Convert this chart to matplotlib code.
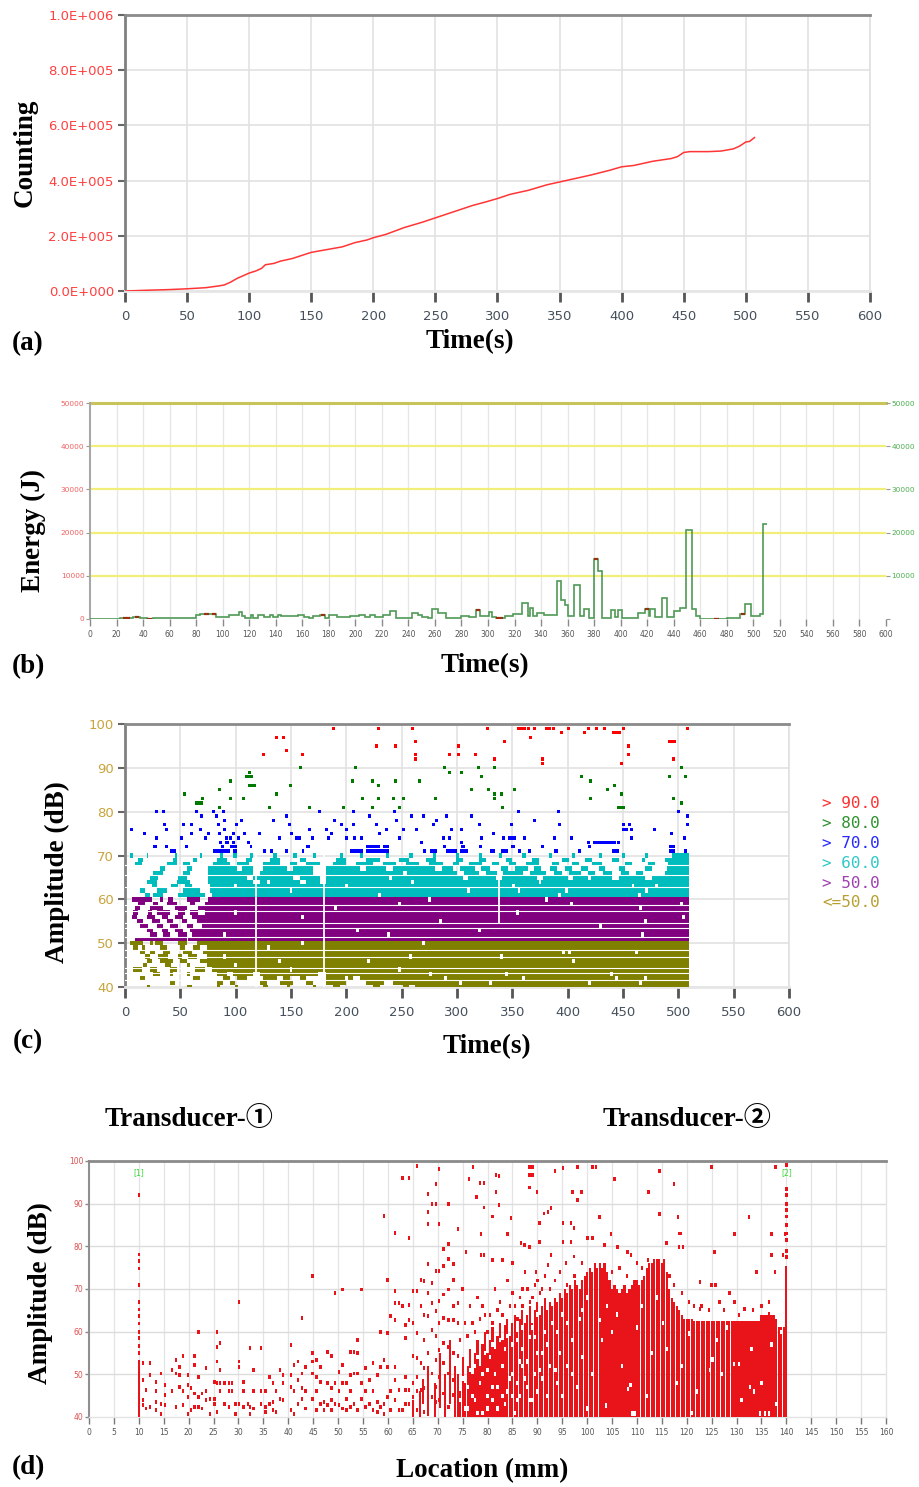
import numpy as np
import matplotlib
matplotlib.use("Agg")
import matplotlib.pyplot as plt
from matplotlib.patches import Rectangle
from matplotlib.collections import PatchCollection

W, H = 920, 1487

# ================= (a) cumulative counting =================
a_time = [0, 20, 35, 50, 65, 75, 80, 85, 90, 95, 100, 105, 110, 113, 120, 125, 135, 150, 165, 175,
          185, 195, 200, 210, 225, 240, 250, 260, 270, 280, 290, 300, 310, 325, 340, 350, 360, 375, 390, 400,
          410, 425, 440, 445, 450, 455, 470, 480, 490, 495, 500, 503, 507]
a_count = [0, 3e3, 5e3, 8e3, 12e3, 18e3, 22e3, 32e3, 45e3, 55e3, 65e3, 72e3, 82e3, 95e3, 100e3, 108e3, 118e3, 140e3, 152e3, 160e3,
           175e3, 185e3, 193e3, 205e3, 230e3, 250e3, 265e3, 280e3, 295e3, 310e3, 322e3, 335e3, 350e3, 365e3, 385e3, 395e3, 405e3, 420e3, 437e3, 450e3,
           455e3, 470e3, 480e3, 487e3, 502e3, 505e3, 505e3, 507e3, 515e3, 525e3, 540e3, 542e3, 556e3]
a_yticks = [0, 2e5, 4e5, 6e5, 8e5, 1e6]
a_yticklabels = ["0.0E+000", "2.0E+005", "4.0E+005", "6.0E+005", "8.0E+005", "1.0E+006"]

# ================= (b) energy (step) =================
b_edges = [0, 22.6, 32.7, 37.7, 42.7, 47.7, 60, 68, 80, 83, 95, 105, 112, 114.5, 117, 121, 123, 127, 131, 136,
           138, 142, 144, 157, 161, 165, 168, 173, 177, 180, 186, 196, 203, 207, 211, 215, 221, 226, 231, 243,
           247, 250, 255, 258, 262, 268, 280, 286, 291, 294, 301, 303, 306, 311, 313, 319, 326, 330, 332, 334,
           337, 342, 352, 355, 358, 360, 365, 369, 372, 376, 380, 383, 386, 393, 396, 398, 401, 413, 418, 421,
           422, 426, 431, 435, 440, 445, 449, 454, 457, 460, 480, 490, 494, 498, 505, 507, 510]
b_energy = [0, 150, 400, 150, 100, 150, 300, 150, 1000, 1150, 540, 1000, 1700, 700, 150, 1000, 150, 1000, 540, 850,
            400, 1000, 700, 1000, 540, 150, 700, 1000, 150, 1000, 540, 700, 1000, 540, 850, 540, 850, 1900, 300, 1300,
            850, 540, 300, 2300, 1400, 300, 700, 500, 2000, 700, 1600, 500, 250, 300, 800, 1100, 3770, 600, 2600, 700,
            1500, 1000, 8850, 4400, 3300, 600, 7850, 600, 2300, 300, 13860, 11150, 200, 2000, 500, 2000, 300, 1500, 2400, 700,
            2300, 500, 4900, 500, 1900, 2500, 20560, 2300, 700, 0, 300, 1200, 3400, 700, 1200, 22100]
b_marks = [(25, 30, 150), (34, 37, 400), (43, 47, 100), (86, 90, 1150), (92, 95, 1150), (174, 177, 1000),
           (291, 294, 2000), (306, 311, 250), (380, 383, 13860), (418, 421, 2400), (470, 474, 0), (491, 494, 1200)]

# ================= (c) amplitude vs time =================
c_red = [(125, 93), (137, 97), (143.6, 97), (146, 94), (160.5, 93), (188, 99), (229.5, 99), (227.3, 95), (244.5, 95),
         (259.6, 99), (262.9, 96), (262.9, 93), (262.9, 92), (293.6, 93), (301, 95), (301, 93), (317, 93), (328, 99),
         (334.2, 92), (343.3, 96), (355.3, 99), (358, 99), (361, 99), (364.3, 99), (366.8, 97), (370.4, 99), (377, 92),
         (377, 91), (381, 99), (384, 99), (387, 99), (394.5, 98), (400.5, 99), (415.6, 98), (418.6, 99), (426, 99),
         (433.6, 99), (441.2, 98), (444.2, 98), (447.2, 98), (450.8, 99), (454.6, 95), (454.6, 93), (448.6, 91),
         (492.3, 96), (495, 96), (496.8, 96), (495.3, 92), (508.3, 99)]
c_green = [(53.6, 84), (64.7, 82), (67, 82), (69.5, 82), (70.2, 83), (85.8, 81), (85.8, 85), (94.9, 87), (94.9, 83),
           (106.9, 83), (109.9, 88), (112.9, 88), (112.9, 89), (114.4, 88), (112.9, 86), (115.2, 86), (117.4, 86),
           (131, 81), (137, 84), (149.7, 86), (159, 90), (167.1, 81), (197.2, 81), (205.7, 87), (208.7, 90), (214.7, 83),
           (223.4, 87), (223.4, 81), (229.5, 86), (229.5, 83), (244.5, 87), (242.4, 83), (251.4, 83), (248.4, 81),
           (265.9, 87), (281, 83), (289.1, 90), (293.6, 89), (304, 89), (313.2, 85), (319.8, 90), (322.2, 88),
           (328.2, 85), (334.2, 84), (334.2, 83), (334.2, 90), (340.2, 84), (340.8, 81), (352.3, 85), (412.5, 88),
           (420.9, 87), (420.9, 83), (436, 85), (442, 86), (448.6, 84), (445.6, 81), (448, 81), (450.2, 81),
           (491.8, 88), (502.9, 90), (506.9, 88), (495.3, 83), (502.9, 82)]
c_blue = [(6, 76), (17.2, 75), (28.6, 80), (34.6, 80), (35.5, 77), (28.6, 74), (26.2, 72), (37.6, 76), (37.6, 72),
          (52.7, 77), (51.2, 74), (55.7, 72), (60.2, 77), (60.2, 75), (64.7, 80), (67.8, 76), (69.3, 79), (72.3, 74),
          (75.3, 75), (79.8, 80), (82.8, 79), (84.3, 77), (85.8, 75), (88.8, 80), (90.3, 76), (91.8, 74), (94.9, 74),
          (97.9, 75), (100.9, 77), (105.4, 78), (108.4, 75), (111.4, 73), (121.9, 75), (134, 78), (140, 74), (146, 79),
          (149, 77), (150.6, 75), (155.1, 74), (158.1, 74), (167.1, 76), (169.5, 74), (176.1, 80), (182.2, 76),
          (183.7, 74), (186.7, 75), (189.7, 78), (195.7, 77), (200.2, 76), (200.2, 74), (206.2, 80), (206.2, 77),
          (207.7, 74), (213.8, 74), (220.7, 79), (227.3, 77), (230.4, 75), (236.4, 76), (243.9, 80), (245.4, 78),
          (248.4, 74), (251.4, 76), (258.8, 79), (263.4, 76), (269.5, 79), (268, 73), (278.5, 77), (281.6, 78),
          (287.6, 74), (290.6, 79), (295.1, 76), (293.6, 74), (304.1, 76), (304.1, 73), (313.2, 79), (320.7, 77),
          (322.2, 74), (332.7, 75), (341.7, 74), (347.7, 74), (350, 74), (352.3, 74), (349.2, 77), (355.3, 80),
          (361.4, 74), (370.4, 78), (388.5, 74), (393, 77), (391.5, 80), (403.4, 74), (418.6, 73), (445.6, 73),
          (450.2, 77), (456.2, 77), (450.2, 76), (453, 76), (457.7, 76), (457.7, 74), (478.8, 76), (493.8, 75),
          (499.8, 80), (508.3, 79), (508.3, 77), (505.9, 74), (86, 73), (88, 72), (92, 73), (96, 72), (98, 73),
          (103, 74), (90, 78), (93, 73)]
c_blue_runs = [(71, 40.7, 46), (71, 79.8, 94.9), (71, 97.9, 100.9), (71, 124.9, 127.5), (71, 131, 133.5),
               (71, 144.5, 147), (71, 159.6, 162), (71, 203, 215), (71, 218, 239), (71, 269.5, 272),
               (71, 275.5, 281.6), (71, 290, 300), (71, 303, 310), (71, 330, 334), (71, 340, 346), (71, 355, 358),
               (71, 364, 367), (71, 388, 391), (71, 409, 412), (71, 440, 446), (71, 492, 497), (71, 505, 508),
               (72, 26, 29), (72, 94.9, 100.9), (72, 112.9, 115), (72, 164, 167), (72, 218, 230), (72, 233, 239),
               (72, 287, 290), (72, 304, 307), (72, 320, 323), (72, 349, 352), (72, 376, 379), (72, 418, 421),
               (72, 492, 497), (73, 423, 444)]
c_cyan_runs = [(61, 18, 22.6), (61, 25.6, 34.6), (61, 48.2, 72.3), (61, 78.3, 510),
               (62, 13.5, 18), (62, 28.6, 37.6), (62, 52.7, 67.8), (62, 76.8, 510),
               (63, 24, 28.6), (63, 42, 48.2), (63, 54.2, 60.2), (63, 76.8, 510),
               (64, 19.6, 28.6), (64, 46.7, 58.7), (64, 75.3, 116), (64, 122, 158), (64, 164, 176), (64, 182, 510),
               (65, 22.6, 30), (65, 48.2, 55.7), (65, 75.3, 110), (65, 116, 152), (65, 158, 176), (65, 182, 305),
               (65, 310, 335), (65, 341, 372), (65, 378, 400), (65, 405, 440), (65, 446, 470), (65, 476, 510),
               (66, 25.6, 34.6), (66, 52.7, 58.7), (66, 75.3, 116), (66, 122, 170), (66, 182, 251), (66, 255, 300),
               (66, 306, 320), (66, 326, 336), (66, 342, 360), (66, 366, 380), (66, 388, 395), (66, 401, 412),
               (66, 418, 425), (66, 432, 440), (66, 448, 455), (66, 462, 468), (66, 488, 510),
               (67, 31.6, 36), (67, 55.7, 60.2), (67, 75.3, 100.9), (67, 106, 116), (67, 125, 146), (67, 152, 170),
               (67, 182, 212), (67, 218, 236), (67, 242, 280), (67, 286, 296), (67, 303, 316), (67, 322, 330),
               (67, 340, 346), (67, 352, 364), (67, 370, 376), (67, 384, 390), (67, 398, 404), (67, 412, 418),
               (67, 428, 434), (67, 446, 452), (67, 470, 476), (67, 490, 510),
               (68, 9, 15), (68, 37.6, 46.7), (68, 52.7, 58.7), (68, 79.8, 94.9), (68, 100.9, 112), (68, 125, 140),
               (68, 149, 155), (68, 164, 176), (68, 188, 200), (68, 209, 224), (68, 233, 245), (68, 254, 266),
               (68, 275, 287), (68, 296, 302), (68, 311, 323), (68, 332, 338), (68, 347, 353), (68, 362, 374),
               (68, 386, 392), (68, 404, 410), (68, 422, 431), (68, 452, 458), (68, 473, 479), (68, 491, 510),
               (69, 12, 16.6), (69, 43.7, 46.7), (69, 61.7, 64.7), (69, 82.8, 91.8), (69, 109, 115), (69, 131, 140),
               (69, 158, 164), (69, 191, 200), (69, 218, 230), (69, 248, 257), (69, 272, 281), (69, 299, 305),
               (69, 320, 326), (69, 344, 350), (69, 368, 374), (69, 395, 401), (69, 416, 422), (69, 440, 446),
               (69, 467, 470), (69, 488, 510),
               (70, 4.5, 7.5), (70, 19.6, 21), (70, 45, 46.7), (70, 67.8, 69.3), (70, 85.8, 88.8), (70, 97.9, 100.9),
               (70, 113, 116), (70, 134, 137), (70, 152, 155), (70, 170, 173), (70, 194, 197), (70, 212, 215),
               (70, 236, 239), (70, 257, 260), (70, 278, 281), (70, 299, 302), (70, 320, 323), (70, 338, 341),
               (70, 359, 362), (70, 383, 386), (70, 404, 407), (70, 428, 431), (70, 449, 452), (70, 470, 473),
               (70, 494, 510)]
c_purple_runs = [(60, 6, 24), (60, 31.6, 34.6), (60, 39, 43.7), (60, 55.7, 67.8), (60, 75.3, 510),
                 (59, 12, 18), (59, 25.6, 30), (59, 37.6, 46.7), (59, 58.7, 63.2), (59, 72.3, 510),
                 (58, 9, 13.5), (58, 22.6, 34.6), (58, 45, 55.7), (58, 66.2, 510),
                 (57, 7.5, 12), (57, 21, 24), (57, 28.6, 40.6), (57, 48.2, 54.2), (57, 58.7, 66.2), (57, 72.3, 510),
                 (56, 6, 10.5), (56, 19.6, 27), (56, 33, 39), (56, 45, 52.7), (56, 60.2, 510),
                 (55, 10.5, 16.6), (55, 24, 31.6), (55, 37.6, 43.7), (55, 51.2, 55.7), (55, 64.7, 510),
                 (54, 13.5, 21), (54, 28.6, 34.6), (54, 40.6, 48.2), (54, 55.7, 61.7), (54, 69.3, 510),
                 (53, 19.6, 25.6), (53, 33, 39), (53, 45, 52.7), (53, 58.7, 510),
                 (52, 22.6, 28.6), (52, 34.6, 40.6), (52, 48.2, 55.7), (52, 60.2, 510),
                 (51, 9, 55.7), (51, 57.2, 510)]
c_olive_runs = [(50, 4.5, 16.6), (50, 22.6, 25.6), (50, 27, 34.6), (50, 48.2, 55.7), (50, 64.7, 510),
                (49, 7.5, 12), (49, 15, 18), (49, 31.6, 37.6), (49, 49.7, 54.2), (49, 61.7, 67.8), (49, 73.8, 510),
                (48, 13.5, 18), (48, 22.6, 27), (48, 34.6, 40.6), (48, 52.7, 60.2), (48, 70.8, 510),
                (47, 18, 22.6), (47, 30, 39), (47, 48.2, 51.2), (47, 57.2, 64.7), (47, 73.8, 510),
                (46, 19.6, 24), (46, 31.6, 43.7), (46, 49.7, 55.7), (46, 67.8, 510),
                (45, 16.6, 19.6), (45, 36, 42), (45, 55.7, 58.7), (45, 73.8, 510),
                (44, 7.5, 15), (44, 22.6, 28.6), (44, 40.6, 46.7), (44, 63.2, 72.3), (44, 78.3, 510),
                (43, 25.6, 31.6), (43, 40.6, 43.7), (43, 55.7, 58.7), (43, 82.8, 91.8), (43, 97.9, 116),
                (43, 122, 176), (43, 182, 510),
                (42, 13.5, 18), (42, 61.7, 67.8), (42, 88.8, 94.9), (42, 100.9, 110), (42, 125, 137), (42, 143, 149),
                (42, 158, 164), (42, 182, 206), (42, 212, 510),
                (41, 40.6, 45), (41, 82.8, 88.8), (41, 94.9, 99.4), (41, 122, 128), (41, 140, 152), (41, 164, 170),
                (41, 182, 200), (41, 218, 236), (41, 242, 510),
                (40, 19.6, 22.6), (40, 55.7, 60.2), (40, 82.8, 85.8), (40, 99.4, 102.4), (40, 125, 129.5),
                (40, 146, 149), (40, 170, 173), (40, 188, 194), (40, 224, 230), (40, 251, 257), (40, 262, 510)]
c_holes = [(247.9, 44), (276, 43), (303, 41), (345, 43), (440, 43), (444, 42), (466, 41), (470, 42), (396, 48),
           (402, 48), (270, 50), (340, 47), (405, 46), (462, 48), (290, 42), (330, 41), (360, 42), (420, 41),
           (150, 44), (200, 42), (176, 43), (140, 46), (100, 45), (90, 47), (130, 49), (160, 50), (220, 46),
           (235, 41), (258, 47), (247.9, 59), (275.5, 60), (380.6, 60), (403.5, 59), (466, 58), (470, 55),
           (468, 52), (503, 59), (505, 56), (285, 55), (320, 53), (355, 57), (430, 54), (238, 52), (160, 56),
           (190, 58), (210, 53), (100, 57), (90, 52), (310, 62), (351, 63), (356, 62), (375, 64), (393, 61),
           (399, 62), (459, 63), (465, 61), (471, 62), (480, 63), (420, 65), (260, 64), (240, 65), (200, 63),
           (150, 62), (130, 64), (100, 63), (230, 61)]
c_vgaps = [(118.3, 39.5, 70.5), (179.8, 39.5, 70.5), (337.9, 54.5, 66.5)]
c_legend = ["> 90.0", "> 80.0", "> 70.0", "> 60.0", "> 50.0", "<=50.0"]

# ================= (d) amplitude vs location =================
d_points = [(10, 55), (10, 56.7), (10, 58.5), (10, 60), (10, 61.9), (10, 63.7), (10, 65.2), (10, 67), (10, 71),
            (10, 74.8), (10, 76.6), (10, 78.1), (10, 92),
            (10.9, 52.6), (10.9, 48.6), (10.9, 44), (10.9, 42.8), (11.5, 46.3), (11.5, 42), (12.3, 52.6),
            (12.3, 49.8), (12.3, 42.4), (13.5, 48.3), (13.5, 46), (13.5, 43.5), (13.5, 41.6), (14.5, 50.2),
            (14.5, 43.1), (14.5, 40.8), (15.3, 47.5), (15.3, 45.1), (15.3, 42.8), (16.7, 51), (16.7, 46),
            (17.5, 53.4), (17.5, 50.2), (17.5, 42.4), (18.2, 51.8), (18.2, 49.8), (18.2, 47), (18.9, 54.2),
            (18.9, 46), (18.9, 42.8), (19.9, 49.8), (19.9, 47.5), (19.9, 44.7), (19.9, 40.8), (20.5, 46.7),
            (20.5, 41.6), (21.2, 54.2), (21.2, 52.2), (21.2, 45.5), (21.2, 42.4), (22, 60), (22, 49.4), (22, 44.7),
            (22, 42.4), (22.7, 45.5), (22.7, 42), (23.5, 51.4), (23.5, 46), (23.5, 44), (24.3, 44.3), (24.3, 40.8),
            (25.2, 48.3), (25.2, 44.3), (25.2, 43.1), (25.7, 60), (25.7, 56.5), (25.7, 53), (25.7, 47.9),
            (25.7, 41.2), (26.3, 57.3), (26.3, 51), (26.3, 47.9), (26.3, 46), (27.2, 47.9), (27.2, 43.1),
            (28.1, 47.9), (28.1, 46), (28.1, 42.4), (28.7, 47.9), (28.7, 46), (29.4, 43.1), (29.4, 40.8),
            (30.1, 67), (30.1, 53), (30.1, 51.8), (30.1, 43.1), (31, 48.3), (31, 46), (31, 42.4), (31.9, 43.1),
            (32.3, 56.1), (32.3, 42.4), (32.3, 40.8), (33, 51), (33, 46), (33, 42), (34.5, 56.1), (34.5, 46),
            (34.5, 43.1), (35.4, 46), (35.4, 42.4), (35.4, 41.2), (36.2, 49.4), (36.2, 43.1), (36.9, 47.9),
            (36.9, 43.5), (36.9, 41.6), (37.5, 46), (37.5, 41.2), (38.4, 51), (38.4, 44.3), (39, 49.8), (39, 47.9),
            (39, 44), (40.5, 56.9), (40.5, 49.8), (40.5, 47), (40.5, 41.6), (41.2, 52.2), (41.2, 46), (41.2, 40.8),
            (42, 53), (42, 48.6), (42, 43.1), (42.7, 63.2), (42.7, 50.2), (42.7, 46.7), (42.7, 44.3), (43.5, 51.8),
            (43.5, 46), (43.5, 42), (44.9, 73), (44.9, 55), (44.9, 53), (44.9, 50.2), (44.9, 44.3), (45.7, 53.4),
            (45.7, 49.4), (45.7, 46), (45.7, 41.6), (46.5, 51.8), (46.5, 48.3), (46.5, 43.1), (47.2, 43.5),
            (47.2, 41.6), (47.9, 55.3), (47.9, 47.9), (47.9, 42.8), (48.7, 54.2), (48.7, 46.7), (48.7, 44),
            (48.7, 41.6), (49.4, 69.1), (49.4, 47.9), (49.4, 43.1), (50.2, 50.6), (50.2, 46), (50.2, 42.8),
            (50.9, 69.9), (50.9, 52.2), (50.9, 47.9), (50.9, 42), (51.7, 47.9), (51.7, 44.3), (51.7, 41.6),
            (52.5, 55.3), (52.5, 49.8), (52.5, 46), (52.5, 42.4), (53.2, 55.3), (53.2, 50.2), (53.2, 43.1),
            (53.9, 58.1), (53.9, 55), (53.9, 50.2), (53.9, 41.6), (54.7, 69.9), (54.7, 47.9), (54.7, 44.3),
            (55.5, 51.4), (55.5, 46), (55.5, 42.4), (56.3, 48.6), (56.3, 43.1), (57, 52.6), (57, 46), (57, 41.6),
            (57.9, 49.8), (57.9, 43.5), (57.9, 41.2), (58.5, 60), (58.5, 51.8), (58.5, 42.4), (59.2, 87.2),
            (59.2, 53.4), (59.2, 43.1), (59.2, 40.8), (59.9, 72.2), (59.9, 59.7), (59.9, 51.8), (59.9, 44.7),
            (60.5, 63.6), (60.5, 46), (60.5, 41.6), (61.4, 83.2), (61.4, 69.5), (61.4, 66.7), (61.4, 62.8),
            (61.4, 51.8), (61.4, 48.6), (61.4, 44), (62.2, 66.7), (62.2, 46.3), (62.2, 41.6), (62.9, 96),
            (62.9, 66), (62.9, 41.6), (63.5, 61.6), (63.5, 58.5), (63.5, 49.4), (63.5, 46.3), (63.5, 43.1),
            (64.3, 96), (64.3, 82), (64.3, 66.3), (64.3, 62.8), (64.3, 46.3), (64.3, 43.1), (65.1, 69.5), (65.1, 62),
            (65.1, 54.2), (65.1, 47.9), (65.1, 44.7), (65.1, 40.8), (65.9, 98.8), (65.9, 69.5), (65.9, 59.7),
            (65.9, 53.8), (65.9, 49.4), (65.9, 46), (65.9, 41.6), (66.7, 72.2), (66.7, 66), (66.7, 52.6),
            (66.7, 46.3), (67.3, 71.8), (67.3, 64), (67.3, 58.1), (67.3, 51.4), (67.3, 46.7), (67.3, 41.2),
            (68, 92.3), (68, 88), (68, 85.2), (68, 75.8), (68, 69.1), (68, 63.6), (68, 55), (68, 49.4), (68, 46.3),
            (68, 40.8), (68.9, 89.9), (68.9, 71.4), (68.9, 66.7), (68.9, 60.4), (68.9, 50.2), (68.9, 44.7),
            (69.7, 94.6), (69.7, 89.9), (69.7, 74.2), (69.7, 64.8), (69.7, 58.9), (69.7, 53.4), (69.7, 47),
            (69.7, 43.5), (70.3, 98.2), (70.3, 85.2), (70.3, 74.2), (70.3, 67.1), (70.3, 62), (70.3, 55.7),
            (70.3, 49.4), (70.3, 44), (71.2, 79.3), (71.2, 75.4), (71.2, 68.7), (71.2, 63.2), (71.2, 57.3),
            (71.2, 52.6), (71.2, 45.5), (72.2, 89.9), (72.2, 80.5), (72.2, 77), (72.2, 69.9), (72.2, 62.8),
            (72.2, 56.5), (72.2, 50.2), (72.2, 42.4), (73.2, 75.8), (73.2, 72.2), (73.2, 66), (73.2, 62.8),
            (73.2, 55), (73.2, 48.6), (73.2, 45.1), (74.1, 84), (74.1, 66.7), (74.1, 62), (74.1, 54.2), (74.1, 47.9),
            (77.1, 98.5), (76.3, 95.7), (78.5, 94.8), (79.3, 94.8), (81.7, 96.7), (82.3, 96.5), (88.4, 98.5),
            (89, 98.5), (88.4, 96.7), (89, 96.7), (88.4, 93.8), (89.9, 92.8), (93.6, 97.7), (95.1, 98.3),
            (98.1, 98.5), (97.1, 92.8), (98.9, 92.8), (98.1, 90.9), (101.1, 98.5), (101.8, 98.5), (105.5, 95.7),
            (112.3, 92.8), (114.5, 97.7), (117.5, 94.6), (125, 98.5), (137.8, 98.5), (77.8, 91.6), (79.3, 89.1),
            (81.7, 92.8), (82.3, 89.7), (81, 87), (84.7, 86.6), (90.4, 85.5), (91.4, 87.7), (92.1, 88.1),
            (92.7, 88.9), (95.1, 85.5), (96.8, 85.4), (97.4, 84.2), (102.5, 86.8), (114.5, 87.6), (118.2, 86.8),
            (132.5, 86.8), (129.6, 82.9), (137, 82.9), (139.7, 82.9), (78.7, 82.9), (84, 82.9), (86.7, 80.7),
            (87.4, 80.3), (88.4, 79.9), (90.4, 81.1), (95.1, 81.1), (96.8, 81.1), (100.1, 81.9), (101.1, 81.9),
            (103.5, 80.3), (104.8, 82.9), (106.1, 79.9), (108.1, 78.7), (108.8, 78), (112.2, 76.8), (115.9, 80.7),
            (118.5, 79.9), (119.2, 79.9), (118.5, 83), (118.9, 83), (125.6, 78.7), (137, 78), (139.3, 78), (134, 74),
            (137.7, 74), (122.6, 71.7), (125, 70.9), (125.8, 70.9), (128.6, 69), (126.6, 67), (122.6, 65.4),
            (129.6, 67), (131.6, 65.4), (133.3, 65), (78.7, 78), (79.3, 78), (75.7, 78.7), (81, 76.8), (83, 76.8),
            (85, 76), (89.7, 74), (92.7, 78), (92.1, 75.6), (95.8, 76), (97.4, 77.6), (75, 70), (76.5, 66),
            (77, 62), (78, 68), (79.5, 64), (80, 60), (81.5, 70), (82, 65), (83.5, 61), (84, 72), (85.5, 66),
            (86, 63), (87, 70), (87.5, 74), (88.5, 67), (89.5, 71), (90.5, 69), (91.5, 73), (92.5, 70), (93.5, 72),
            (94.5, 74), (96, 71), (97.5, 73), (99, 76), (105, 74), (106.5, 75), (108, 73), (110, 76), (111, 75),
            (116.5, 73), (117.5, 71), (119, 69), (120.5, 67), (121.5, 66), (123, 66), (124.5, 65), (127.5, 65),
            (130.5, 64), (135, 66), (136.5, 67), (140, 77.5), (140, 79), (140, 81.5), (140, 83), (140, 85),
            (140, 87), (140, 88.5), (140, 90), (140, 92), (140, 93.5), (140, 99),
            (74.5, 58), (75.5, 62), (76, 59), (77.5, 60), (78.5, 63), (79, 66), (80.5, 64), (81, 62), (82.5, 67),
            (83, 64), (84.5, 66), (85, 69), (86.5, 68), (87, 66), (88, 70), (89, 68), (90, 72), (91, 70)]
d_runs = [(10, 40, 53.4), (140, 40, 75.5), (65, 40, 44), (66.5, 40, 46), (67, 43, 49), (68, 41, 52),
          (69.5, 40, 48), (70.5, 42, 55), (71.5, 40, 50), (72.5, 43, 58), (73.5, 40, 52)]
d_fill_start = 74.0
d_fill_top = [50, 46, 54, 48, 52, 56, 50, 55, 58, 52, 57, 60,
              55, 58, 61, 56, 59, 62, 58, 61, 63, 59, 62, 64,
              60, 63, 65, 62, 64, 66, 62, 65, 67, 64, 66, 68,
              65, 67, 66, 68, 67, 69, 68, 70, 69, 71, 70, 72,
              71, 70, 72, 73, 74, 75, 74, 76, 75, 76, 75, 76,
              74, 72, 70, 71, 70, 69, 70, 71, 69, 70, 71, 72,
              72, 71, 72, 73, 75, 76, 76, 77, 77, 77, 76, 77,
              74, 70, 68, 67, 66, 65, 64, 63, 63, 63, 63, 62.5,
              62.5, 62.5, 62.5, 62.5, 62.5, 62.5, 62.5, 62.5, 62.5, 62.5, 62.5, 62.5,
              62.5, 62.5, 62.5, 62.5, 62.5, 62.5, 62.5, 62.5, 62.5, 62.5, 62.5, 62.5,
              62.5, 62.5, 64, 64, 64, 64.5, 64, 64, 63, 61, 61, 61]
d_holes = [(93.7, 51), (88.5, 58.8), (89.5, 58.8), (102.5, 62.7), (108.2, 46.5), (108.7, 47.5), (115.2, 62),
           (103.8, 42.7), (109, 40.8), (109.5, 40.8), (120.5, 59.6), (124.7, 51), (125.2, 53.5), (129.5, 52.5),
           (130.5, 52.5), (132.7, 47), (133.5, 46), (134.7, 40.8), (135.7, 40.8), (136.5, 40.8), (138, 43),
           (84, 46), (85, 50), (86, 44), (82, 42), (80, 45), (79, 41), (87, 52), (88, 47), (90, 55), (91, 49),
           (92, 57), (94, 60), (95, 45), (96, 62), (97, 50), (99, 65), (100, 42), (105, 60), (106, 64), (111, 66),
           (113, 55), (118, 48), (121, 41), (126, 58), (128, 61), (131, 44), (137, 57), (139, 60),
           (76, 42), (77.5, 44), (81, 47), (83, 45), (85.5, 41), (86.5, 53), (87.5, 49), (89, 44), (90.5, 51),
           (74.5, 44), (75, 49), (75.5, 42), (76, 47), (76.5, 51), (77, 45), (77.5, 52), (78, 41), (78, 54),
           (78.5, 48), (79, 50), (79.5, 55), (80, 42), (80, 51), (80.5, 54), (81, 44), (81, 57), (81.5, 50),
           (82, 47), (82.5, 58), (83, 52), (83.5, 43), (83.5, 56), (84, 59), (84.5, 49), (85, 45), (85, 57),
           (86, 48), (86, 58), (86.5, 45), (87, 56), (87, 61), (88, 53), (88.5, 44), (89, 61), (89.5, 50),
           (90, 46), (90, 64), (91, 55), (91.5, 60), (92, 45), (92.5, 52), (93, 62), (94, 48), (94.5, 55),
           (95, 64), (96, 52), (97, 58), (98, 47), (98.5, 63), (99, 54), (100, 68), (101, 50), (103, 58),
           (104, 66), (107, 52), (110, 61), (112, 45), (114, 68), (116, 56), (119, 52), (122, 46), (127, 50),
           (133, 56), (135, 48)]

# ================= figure =================
fig = plt.figure(figsize=(W / 100, H / 100), dpi=100)
fig.patch.set_facecolor("white")


def axpos(l, t, r, b):
    return [l / W, 1 - b / H, (r - l) / W, (b - t) / H]


def ftext(x, y, s, **kw):
    fig.text(x / W, 1 - y / H, s, **kw)


LAB = dict(family=["Liberation Serif", "Noto Sans CJK SC"], fontweight="bold", fontsize=19.5, color="black")


def add_rects(ax, items, color, z=3):
    pcs = [Rectangle((x0, y0), w, h) for (x0, y0, w, h) in items]
    ax.add_collection(PatchCollection(pcs, facecolor=color, edgecolor="none", linewidth=0, zorder=z))


# ---------- (a) ----------
axa = fig.add_axes(axpos(125, 15, 870, 291))
axa.plot(a_time, a_count, color="#FF3535", lw=1.1, zorder=3)
axa.set_xlim(0, 600)
axa.set_ylim(0, 1e6)
axa.set_xticks(range(0, 601, 50))
axa.set_yticks(a_yticks)
axa.set_yticklabels(a_yticklabels)
axa.grid(True, color="#E2E2E2", lw=1.2)
axa.set_axisbelow(True)
axa.tick_params(axis="x", colors="#555555", labelcolor="#45505C", length=8, width=2, pad=6, labelsize=9.5)
axa.tick_params(axis="y", colors="#666666", labelcolor="#FF4040", length=5, width=1.5, pad=3, labelsize=9.5)
for s, c, lw in [("left", "#808080", 2), ("top", "#8A8A8A", 2), ("right", "#E0E0E0", 1.2), ("bottom", "#E6E6E6", 2)]:
    axa.spines[s].set_color(c)
    axa.spines[s].set_linewidth(lw)
ftext(25, 153, "Counting", rotation=90, ha="center", va="center", **LAB)
ftext(470, 342, "Time(s)", ha="center", va="center", **LAB)
ftext(28, 344, "(a)", ha="center", va="center", **LAB)

# ---------- (b) ----------
axb = fig.add_axes(axpos(90, 403, 886, 619))
axb.set_xlim(0, 600)
axb.set_ylim(0, 50000)
for xv in range(20, 600, 20):
    axb.axvline(xv, color="#E6E6E6", lw=0.9, zorder=0)
for yv in [10000, 20000, 30000, 40000]:
    axb.axhline(yv, color="#F2EE7A", lw=1.6, zorder=1)
axb.axhline(50000, color="#C9C45A", lw=2.2, zorder=1, clip_on=False)
axb.stairs(b_energy, b_edges, baseline=None, color="#4F9A55", lw=1.2, zorder=3)
for t0, t1, e in b_marks:
    axb.plot([t0, t1], [e, e], color="#9A3010", lw=1.6, zorder=4, solid_capstyle="butt")
axb.set_xticks(range(0, 601, 20))
axb.set_yticks([0, 10000, 20000, 30000, 40000, 50000])
axb.tick_params(axis="x", colors="#8A8A8A", labelcolor="#555555", length=5, width=1, pad=3, labelsize=5.5)
axb.tick_params(axis="y", colors="#999999", labelcolor="#F06060", length=3, width=0.8, pad=1, labelsize=5.3)
for s in ["top", "right", "bottom"]:
    axb.spines[s].set_visible(False)
axb.spines["left"].set_color("#A8A8A8")
axb.spines["left"].set_linewidth(1.5)
axb2 = axb.twinx()
axb2.set_ylim(0, 50000)
axb2.set_yticks([0, 10000, 20000, 30000, 40000, 50000])
axb2.set_yticklabels(["", "10000", "20000", "30000", "40000", "50000"])
axb2.tick_params(axis="y", colors="#999999", labelcolor="#4CAF50", length=3, width=0.8, pad=1, labelsize=5.3)
for s in axb2.spines.values():
    s.set_visible(False)
ftext(33, 530, "Energy (J)", rotation=90, ha="center", va="center", **LAB)
ftext(485, 666, "Time(s)", ha="center", va="center", **LAB)
ftext(28, 667, "(b)", ha="center", va="center", **LAB)

# ---------- (c) ----------
axc = fig.add_axes(axpos(125, 724, 789, 987))
axc.set_xlim(0, 600)
axc.set_ylim(40, 100)
axc.grid(True, color="#E2E2E2", lw=1.2, zorder=0)
axc.set_axisbelow(True)
C_RED, C_GREEN, C_BLUE, C_CYAN, C_PURPLE, C_OLIVE = "#FF0000", "#007A00", "#0000FF", "#00BDBD", "#800080", "#808000"
for runs, col in [(c_olive_runs, C_OLIVE), (c_purple_runs, C_PURPLE), (c_cyan_runs, C_CYAN), (c_blue_runs, C_BLUE)]:
    add_rects(axc, [(t0, r - 0.5 if r <= 70 else r - 0.375, t1 - t0, 1.0 if r <= 70 else 0.75) for r, t0, t1 in runs], col)
cw, ch = 2.7, 0.75
for pts, col in [(c_blue, C_BLUE), (c_green, C_GREEN), (c_red, C_RED)]:
    add_rects(axc, [(t - cw / 2, a - ch / 2, cw, ch) for t, a in pts], col, z=4)
add_rects(axc, [(t - 1.3, a - 0.5, 2.6, 1.0) for t, a in c_holes], "white", z=5)
for t, lo, hi in c_vgaps:
    axc.plot([t, t], [lo, hi], color="white", lw=1.3, zorder=6)
for yv in [41.6, 43.1, 44.4, 46.8, 48.4, 51.5, 53.4, 54.5, 57.3, 58.7, 62.9, 65.5, 67.8]:
    axc.plot([0, 510], [yv, yv], color="white", lw=0.8, zorder=6)
axc.set_xticks(range(0, 601, 50))
axc.set_yticks(range(40, 101, 10))
axc.tick_params(axis="x", colors="#555555", labelcolor="#45505C", length=8, width=2, pad=6, labelsize=9.5)
axc.tick_params(axis="y", colors="#666666", labelcolor="#C8A43C", length=5, width=1.5, pad=3, labelsize=9.5)
for s, c, lw in [("left", "#808080", 2), ("top", "#8A8A8A", 2), ("right", "#E0E0E0", 1.2), ("bottom", "#E6E6E6", 2)]:
    axc.spines[s].set_color(c)
    axc.spines[s].set_linewidth(lw)
leg_cols = ["#FF3030", "#2E922E", "#2828FF", "#30C8C8", "#A040B0", "#B8A030"]
for i, (lab, col) in enumerate(zip(c_legend, leg_cols)):
    ftext(822, 804 + 19.8 * i, lab, ha="left", va="center", family="DejaVu Sans Mono", fontsize=11.5, color=col)
ftext(57, 872, "Amplitude (dB)", rotation=90, ha="center", va="center", **LAB)
ftext(487, 1047, "Time(s)", ha="center", va="center", **LAB)
ftext(28, 1042, "(c)", ha="center", va="center", **LAB)

# ---------- (d) ----------
axd = fig.add_axes(axpos(89, 1161, 886, 1417))
axd.set_xlim(0, 160)
axd.set_ylim(40, 100)
for xv in range(5, 160, 5):
    axd.axvline(xv, color="#E4E4E4", lw=0.9, zorder=0)
for yv in range(50, 100, 10):
    axd.axhline(yv, color="#DCDCDC", lw=1.0, zorder=0)
D_RED = "#E8141A"
bw = 0.43
fill_locs = d_fill_start + 0.5 * np.arange(len(d_fill_top))
add_rects(axd, [(x - bw / 2, 40, bw, top - 40) for x, top in zip(fill_locs, d_fill_top)], D_RED)
add_rects(axd, [(x - bw / 2, lo, bw, hi - lo) for x, lo, hi in d_runs], D_RED)
add_rects(axd, [(x - 0.24, a - 0.45, 0.48, 0.9) for x, a in d_points], D_RED, z=4)
add_rects(axd, [(x - 0.25, a - 0.5, 0.5, 1.0) for x, a in d_holes], "white", z=5)
axd.text(10, 97.3, "[1]", color="#33DD33", fontsize=5.5, ha="center", va="center", zorder=6)
axd.text(140, 97.3, "[2]", color="#33DD33", fontsize=5.5, ha="center", va="center", zorder=6)
axd.set_xticks(range(0, 161, 5))
axd.set_yticks(range(40, 101, 10))
axd.tick_params(axis="x", colors="#777777", labelcolor="#555555", length=5, width=1, pad=3, labelsize=5.5)
axd.tick_params(axis="y", colors="#888888", labelcolor="#E05050", length=3, width=1, pad=1, labelsize=5.5)
for s, c, lw in [("left", "#909090", 1.5), ("top", "#8A8A8A", 2), ("right", "#E4E4E4", 1), ("bottom", "#E4E4E4", 1)]:
    axd.spines[s].set_color(c)
    axd.spines[s].set_linewidth(lw)
ftext(189, 1119, "Transducer-\u2460", ha="center", va="center", **LAB)
ftext(687, 1119, "Transducer-\u2461", ha="center", va="center", **LAB)
ftext(40, 1293, "Amplitude (dB)", rotation=90, ha="center", va="center", **LAB)
ftext(482, 1471, "Location (mm)", ha="center", va="center", **LAB)
ftext(28, 1468, "(d)", ha="center", va="center", **LAB)

fig.savefig("out.png", dpi=100, facecolor="white")
